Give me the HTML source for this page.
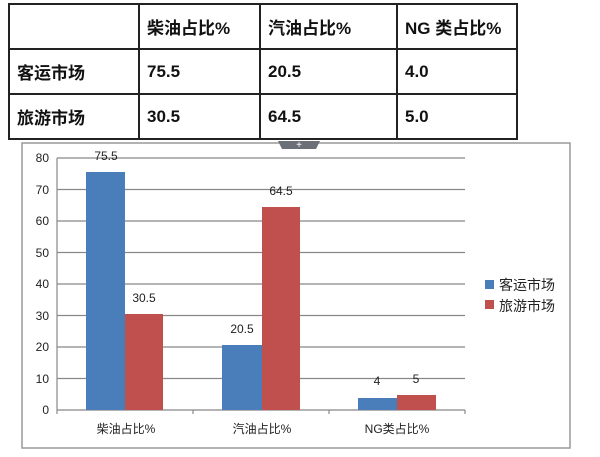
<!DOCTYPE html>
<html><head><meta charset="utf-8"><style>
body{margin:0;width:600px;height:457px;background:#fff;overflow:hidden;position:relative;font-family:"Liberation Sans","Noto Sans CJK SC",sans-serif}
table{position:absolute;left:8px;top:3px;border-collapse:collapse;width:510px}
td{border:2px solid #222;height:43px;font-size:17px;font-weight:bold;padding:0 0 0 7px;color:#111}
</style></head><body>
<table>
<tr><td style="width:121px"></td><td style="width:112px">柴油占比%</td><td style="width:128px">汽油占比%</td><td>NG 类占比%</td></tr>
<tr><td>客运市场</td><td>75.5</td><td>20.5</td><td>4.0</td></tr>
<tr><td>旅游市场</td><td>30.5</td><td>64.5</td><td>5.0</td></tr>
</table>
<svg style="position:absolute;left:0;top:0" width="600" height="457" font-family="Liberation Sans, Noto Sans CJK SC, sans-serif" font-size="12" fill="#222">
<rect x="22" y="143" width="548" height="305" fill="#fff" stroke="#999" stroke-width="1.5"/>
<path d="M278 141h42l-4 8h-34z" fill="#6b7078"/><text x="299" y="148" fill="#fff" font-size="10" text-anchor="middle">+</text>
<g stroke="#888" stroke-width="1.2">
<line x1="57" y1="158" x2="465" y2="158"/><line x1="57" y1="189.5" x2="465" y2="189.5"/><line x1="57" y1="221" x2="465" y2="221"/><line x1="57" y1="252.5" x2="465" y2="252.5"/><line x1="57" y1="284" x2="465" y2="284"/><line x1="57" y1="315.5" x2="465" y2="315.5"/><line x1="57" y1="347" x2="465" y2="347"/><line x1="57" y1="378.5" x2="465" y2="378.5"/>
<line x1="57" y1="410" x2="465" y2="410"/><line x1="57" y1="158" x2="57" y2="414"/>
<line x1="193" y1="410" x2="193" y2="414"/><line x1="329" y1="410" x2="329" y2="414"/><line x1="465" y1="410" x2="465" y2="414"/>
</g>
<g text-anchor="end"><text x="49" y="162">80</text><text x="49" y="194">70</text><text x="49" y="225">60</text><text x="49" y="257">50</text><text x="49" y="288">40</text><text x="49" y="320">30</text><text x="49" y="351">20</text><text x="49" y="383">10</text><text x="49" y="414">0</text></g>
<g fill="#4a7ebb"><rect x="86" y="172" width="39" height="238"/><rect x="222" y="345" width="40" height="65"/><rect x="358" y="398" width="39" height="12"/></g>
<g fill="#c0504d"><rect x="125" y="314" width="38" height="96"/><rect x="262" y="207" width="38" height="203"/><rect x="397" y="395" width="39" height="15"/></g>
<g text-anchor="middle"><text x="106" y="160">75.5</text><text x="144" y="302">30.5</text><text x="242" y="333">20.5</text><text x="281" y="195">64.5</text><text x="377" y="385">4</text><text x="416" y="383">5</text>
<text x="126" y="433">柴油占比%</text><text x="262" y="433">汽油占比%</text><text x="397" y="433">NG类占比%</text></g>
<rect x="485" y="280" width="9" height="9" fill="#4a7ebb"/><rect x="485" y="300" width="9" height="9" fill="#c0504d"/>
<text x="499" y="290" font-size="14">客运市场</text><text x="499" y="311" font-size="14">旅游市场</text>
</svg>
</body></html>
